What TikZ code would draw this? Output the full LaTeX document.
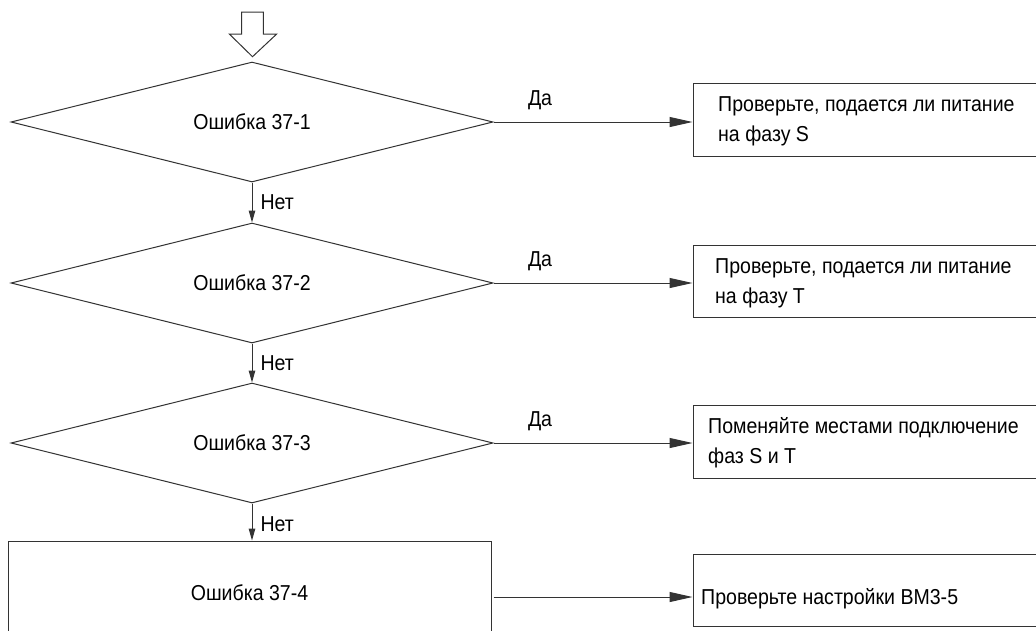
\documentclass[tikz,border=0pt]{standalone}
\usepackage{fontspec}
\setmainfont{Liberation Sans}[FakeStretch=0.905]
\usetikzlibrary{shapes.geometric,arrows.meta}
\begin{document}
\begin{tikzpicture}[x=1pt,y=-1pt,
  ln/.style={draw=black!80, line width=1pt},
  txt/.style={font=\fontsize{21.6}{30}\selectfont, text=black},
  decision/.style={diamond, ln, txt, shape aspect=4, minimum width=482pt, minimum height=120pt, inner sep=0pt},
  procbox/.style={rectangle, ln, inner sep=0pt},
  boxtext/.style={txt, inner sep=0pt, anchor=base west, align=left},
  yesarrow/.style={ln, -{Triangle[length=23pt,width=10pt]}},
  noarrow/.style={ln, -{Triangle[length=12pt,width=6.5pt]}},
  lbl/.style={txt, inner sep=0pt}
]
\useasboundingbox (0,0) rectangle (1036,630);
\clip (0,0) rectangle (1036,630);

% entry arrow (outlined)
\draw[ln, fill=white] (241.7,12) -- (263.3,12) -- (263.3,34) -- (276.7,34)
  -- (252.5,56.7) -- (229.3,34) -- (241.7,34) -- cycle;

% decisions
\node[decision] (d1) at (252,122) {Ошибка 37-1};
\node[decision] (d2) at (252,283) {Ошибка 37-2};
\node[decision] (d3) at (252,443) {Ошибка 37-3};
\node[procbox, minimum width=483pt, minimum height=104pt, txt] (r4) at (249.5,593) {Ошибка 37-4};

% result boxes (run past the right edge)
\node[procbox, minimum width=360pt, minimum height=73pt] (b1) at (873,119.5) {};
\node[procbox, minimum width=360pt, minimum height=72pt] (b2) at (873,281) {};
\node[procbox, minimum width=360pt, minimum height=73pt] (b3) at (873,441.5) {};
\node[procbox, minimum width=360pt, minimum height=72pt] (b4) at (873,590) {};

% box texts, anchored on the baseline of their last line
\node[boxtext] (t1) at (718,141) {Проверьте, подается ли питание\\на фазу S};
\node[boxtext] (t2) at (715,303) {Проверьте, подается ли питание\\на фазу T};
\node[boxtext] (t3) at (708,463) {Поменяйте местами подключение\\фаз S и T};
\node[boxtext] (t4) at (701,604) {Проверьте настройки ВМ3-5};

% "yes" branches
\draw[yesarrow] (d1.east) -- node[lbl, pos=0, anchor=west, xshift=34pt, yshift=22pt] {Да} (d1.east -| b1.west);
\draw[yesarrow] (d2.east) -- node[lbl, pos=0, anchor=west, xshift=34pt, yshift=22pt] {Да} (d2.east -| b2.west);
\draw[yesarrow] (d3.east) -- node[lbl, pos=0, anchor=west, xshift=34pt, yshift=22pt] {Да} (d3.east -| b3.west);
\draw[yesarrow] ([xshift=2pt,yshift=-4pt]r4.east) -- ([yshift=-4pt]r4.east -| b4.west);

% "no" branches
\draw[noarrow] (d1.south) -- node[lbl, anchor=west, xshift=8pt] {Нет} (d2.north);
\draw[noarrow] (d2.south) -- node[lbl, anchor=west, xshift=8pt] {Нет} (d3.north);
\draw[noarrow] (d3.south) -- node[lbl, anchor=west, xshift=8pt, yshift=-2pt] {Нет} (d3.south |- r4.north);
\end{tikzpicture}
\end{document}
